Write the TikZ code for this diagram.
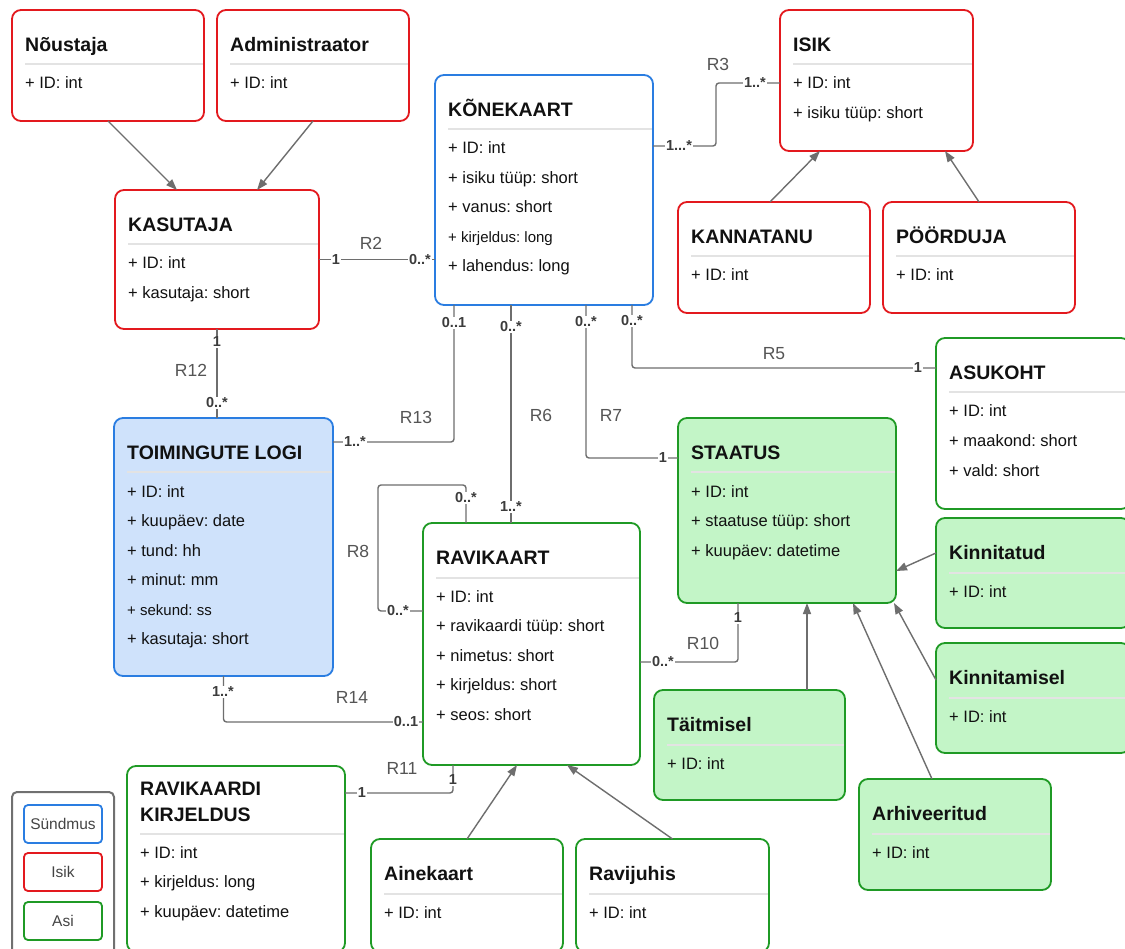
\documentclass[tikz,border=0pt]{standalone}
\usepackage{fontspec}
\setmainfont{Liberation Sans}
\usetikzlibrary{arrows.meta,calc,fit}
\definecolor{cred}{HTML}{E3191E}
\definecolor{cblue}{HTML}{2A7DE1}
\definecolor{cgreen}{HTML}{1F9A25}
\definecolor{cbluef}{HTML}{CFE2FB}
\definecolor{cgreenf}{HTML}{C3F5C7}
\definecolor{cline}{HTML}{6E6E6E}
\definecolor{csep}{HTML}{E3E3E3}
\definecolor{cmult}{HTML}{3C3C3C}
\definecolor{crel}{HTML}{555555}
\definecolor{clegend}{HTML}{707070}
\definecolor{ctext}{HTML}{111111}
\definecolor{clegtxt}{HTML}{444444}
\frenchspacing

% smaller attribute text
\newcommand\smattr[1]{{\fontsize{15}{17}\selectfont #1}}

% class box: name, style, x1, y1, x2, y2, title, attribute list
\newcommand\entity[8]{%
  \node[#2, fit={(#3,#4) (#5,#6)}] (#1) {};
  \draw[sepline] (#3+13,#4+54.5) -- (#5-1,#4+54.5);
  \node[ttl] (#1-t) at (#3+13,#4+41.5) {#7};
  \foreach \atxt [count=\k from 0] in {#8} {%
    \node[attr] (#1-a\k) at (#3+13,#4+79+29.5*\k) {\atxt};}%
}

\begin{document}
\begin{tikzpicture}[x=1pt,y=-1pt,
  ent/.style={inner sep=0pt, outer sep=0pt, line width=1.8pt, rounded corners=9pt},
  redent/.style={ent, draw=cred, fill=white},
  bluewhite/.style={ent, draw=cblue, fill=white},
  blueent/.style={ent, draw=cblue, fill=cbluef},
  greenent/.style={ent, draw=cgreen, fill=white},
  greenfill/.style={ent, draw=cgreen, fill=cgreenf},
  sepline/.style={draw=csep, line width=2pt},
  ttl/.style={anchor=base west, inner sep=0pt, text=ctext, font=\fontsize{19.5}{22}\selectfont\bfseries},
  attr/.style={anchor=base west, inner sep=0pt, text=ctext, font=\fontsize{16.5}{19}\selectfont},
  conn/.style={draw=cline, line width=1.4pt, rounded corners=3pt},
  isa/.style={draw=cline, line width=1.4pt, -{Triangle[length=11pt,width=8pt]}},
  mult/.style={inner sep=1pt, fill=white, text=cmult, font=\fontsize{14.5}{16}\selectfont\bfseries},
  rel/.style={inner sep=0pt, text=crel, font=\fontsize{17.5}{20}\selectfont},
  legframe/.style={inner sep=0pt, outer sep=0pt, draw=clegend, line width=2pt, rounded corners=5pt},
  legitem/.style={inner sep=0pt, outer sep=0pt, line width=1.8pt, rounded corners=4pt, fill=white},
  legtxt/.style={inner sep=0pt, text=clegtxt, font=\fontsize{15.5}{18}\selectfont}
]
\useasboundingbox (0,0) rectangle (1125,949);
\clip (0,0) rectangle (1125,949);
\fill[white] (0,0) rectangle (1125,949);

% ---------- classes ----------
\entity{nou}{redent}{12}{10}{204}{121}{Nõustaja}{+ ID: int}
\entity{adm}{redent}{217}{10}{409}{121}{Administraator}{+ ID: int}
\entity{kas}{redent}{115}{190}{319}{329}{KASUTAJA}{+ ID: int, + kasutaja: short}
\entity{kon}{bluewhite}{435}{75}{653}{305}{KÕNEKAART}{+ ID: int, + isiku tüüp: short, + vanus: short, \smattr{+ kirjeldus: long}, + lahendus: long}
\entity{isik}{redent}{780}{10}{973}{151}{ISIK}{+ ID: int, + isiku tüüp: short}
\entity{kan}{redent}{678}{202}{870}{313}{KANNATANU}{+ ID: int}
\entity{poo}{redent}{883}{202}{1075}{313}{PÖÖRDUJA}{+ ID: int}
\entity{asu}{greenent}{936}{338}{1130}{509}{ASUKOHT}{+ ID: int, + maakond: short, + vald: short}
\entity{stat}{greenfill}{678}{418}{896}{603}{STAATUS}{+ ID: int, + staatuse tüüp: short, + kuupäev: datetime}
\entity{toim}{blueent}{114}{418}{333}{676}{TOIMINGUTE LOGI}{+ ID: int, + kuupäev: date, + tund: hh, + minut: mm, \smattr{+ sekund: ss}, + kasutaja: short}
\entity{rav}{greenent}{423}{523}{640}{765}{RAVIKAART}{+ ID: int, + ravikaardi tüüp: short, + nimetus: short, + kirjeldus: short, + seos: short}
\entity{tai}{greenfill}{654}{690}{845}{800}{Täitmisel}{+ ID: int}
\entity{knt}{greenfill}{936}{518}{1130}{628}{Kinnitatud}{+ ID: int}
\entity{knm}{greenfill}{936}{643}{1130}{753}{Kinnitamisel}{+ ID: int}
\entity{arh}{greenfill}{859}{779}{1051}{890}{Arhiveeritud}{+ ID: int}
\entity{aine}{greenent}{371}{839}{563}{952}{Ainekaart}{+ ID: int}
\entity{ravj}{greenent}{576}{839}{769}{952}{Ravijuhis}{+ ID: int}

% two-line title box
\node[greenent, fit={(127,766) (345,952)}] (rkk) {};
\draw[sepline] (140,834) -- (344,834);
\node[ttl] (rkk-t1) at (140,795) {RAVIKAARDI};
\node[ttl] (rkk-t2) at (140,821) {KIRJELDUS};
\node[attr] (rkk-a0) at (140,858) {+ ID: int};
\node[attr] (rkk-a1) at (140,887.5) {+ kirjeldus: long};
\node[attr] (rkk-a2) at (140,917) {+ kuupäev: datetime};

% ---------- legend ----------
\node[legframe, fit={(12,792) (114,956)}] (leg) {};
\node[legitem, draw=cblue, fit={(24,805) (102,843)}] (leg-s) {};
\node[legitem, draw=cred, fit={(24,853) (102,891)}] (leg-i) {};
\node[legitem, draw=cgreen, fit={(24,902) (102,940)}] (leg-a) {};
\node[legtxt] (leg-st) at (leg-s.center) {Sündmus};
\node[legtxt] (leg-it) at (leg-i.center) {Isik};
\node[legtxt] (leg-at) at (leg-a.center) {Asi};

% ---------- generalisation arrows ----------
\draw[isa] (nou.south) -- ($(kas.north)+(-40,0)$);
\draw[isa] (adm.south) -- ($(kas.north)+(40,0)$);
\draw[isa] ($(kan.north)+(-4,0)$) -- ($(isik.south west)+(40,0)$);
\draw[isa] (poo.north) -- ($(isik.south east)+(-28,0)$);
\draw[isa] (aine.north) -- ($(rav.south west)+(94,0)$);
\draw[isa] (ravj.north) -- ($(rav.south west)+(144,0)$);
\draw[isa] ($(tai.north west)+(153,0)$) -- ($(stat.south west)+(129,0)$);
\draw[isa] ($(knt.north west)+(0,35)$) -- ($(stat.north east)+(0,153)$);
\draw[isa] ($(knm.north west)+(0,37)$) -- ($(stat.south east)+(-2,0)$);
\draw[isa] ($(arh.north west)+(73,0)$) -- ($(stat.south west)+(175,0)$);

% ---------- associations ----------
\draw[conn] (kas.east) -- (kas.east -| kon.west);
\draw[conn] ($(kon.north east)+(0,71)$) -- ++(63,0) |- ($(isik.north west)+(0,73)$);
\draw[conn] ($(kon.south west)+(197,0)$) |- ($(asu.north west)+(0,30)$);
\draw[conn] ($(kon.south west)+(151,0)$) |- ($(stat.north west)+(0,40)$);
\draw[conn] ($(kon.south west)+(76,0)$) -- ($(rav.north west)+(88,0)$);
\draw[conn] ($(kon.south west)+(19,0)$) |- ($(toim.north east)+(0,24)$);
\draw[conn] (kas.south) -- (kas.south |- toim.north);
\coordinate (r8turn) at (378,485);
\draw[conn] ($(rav.north west)+(43,0)$) |- (r8turn) |- ($(rav.north west)+(0,88)$);
\draw[conn] ($(rav.north east)+(0,139)$) -| ($(stat.south west)+(60,0)$);
\draw[conn] (toim.south) |- ($(rav.north west)+(0,199)$);
\draw[conn] ($(rav.south west)+(30,0)$) |- ($(rkk.north east)+(0,27)$);

% ---------- multiplicities ----------
\node[mult] (m2a) at (336,259.5) {1};
\node[mult] (m2b) at (420,259.5) {0..*};
\node[mult] (m3a) at (679,146) {1...*};
\node[mult] (m3b) at (755,83) {1..*};
\node[mult] (m5a) at (632,321) {0..*};
\node[mult] (m5b) at (918,368) {1};
\node[mult] (m7a) at (586,322) {0..*};
\node[mult] (m7b) at (663,458) {1};
\node[mult] (m6a) at (511,327) {0..*};
\node[mult] (m6b) at (511,507) {1..*};
\node[mult] (m13a) at (454,323) {0..1};
\node[mult] (m13b) at (355,442) {1..*};
\node[mult] (m12a) at (217,342) {1};
\node[mult] (m12b) at (217,403) {0..*};
\node[mult] (m8a) at (466,498) {0..*};
\node[mult] (m8b) at (398,611) {0..*};
\node[mult] (m10a) at (663,662) {0..*};
\node[mult] (m10b) at (738,618) {1};
\node[mult] (m14a) at (223,692) {1..*};
\node[mult] (m14b) at (406,722) {0..1};
\node[mult] (m11a) at (453,780) {1};
\node[mult] (m11b) at (362,793) {1};

% ---------- relation names ----------
\node[rel] (r2) at (371,243) {R2};
\node[rel] (r3) at (718,64) {R3};
\node[rel] (r5) at (774,354) {R5};
\node[rel] (r6) at (541,415) {R6};
\node[rel] (r7) at (611,415) {R7};
\node[rel] (r8) at (358,551) {R8};
\node[rel] (r10) at (703,643) {R10};
\node[rel] (r11) at (402,768) {R11};
\node[rel] (r12) at (191,370) {R12};
\node[rel] (r13) at (416,417) {R13};
\node[rel] (r14) at (352,697) {R14};
\end{tikzpicture}
\end{document}
